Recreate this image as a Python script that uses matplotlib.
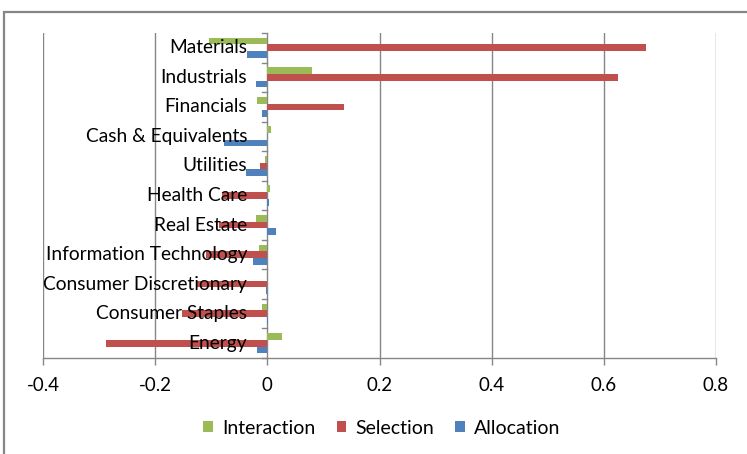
import matplotlib
matplotlib.use("Agg")
import matplotlib.pyplot as plt
from matplotlib.patches import Rectangle
import numpy as np

# sector attribution effects, listed bottom to top
CATEGORIES = ["Energy", "Consumer Staples", "Consumer Discretionary",
              "Information Technology", "Real Estate", "Health Care",
              "Utilities", "Cash & Equivalents", "Financials",
              "Industrials", "Materials"]
ALLOCATION = [-0.018, 0.002, -0.003, -0.025, 0.016, 0.003,
              -0.038, -0.077, -0.009, -0.021, -0.036]
SELECTION = [-0.288, -0.153, -0.127, -0.110, -0.086, -0.080,
             -0.013, 0.0, 0.136, 0.625, 0.675]
INTERACTION = [0.027, -0.009, 0.0, -0.015, -0.020, 0.005,
               -0.005, 0.006, -0.018, 0.079, -0.104]
X_TICKS = [-0.4, -0.2, 0, 0.2, 0.4, 0.6, 0.8]

BLUE = "#4F81BD"
RED = "#C0504D"
GREEN = "#9BBB59"
GRID = "#868686"

plt.rcParams["font.family"] = ["Lato", "DejaVu Sans"]

W, H = 747, 454
fig = plt.figure(figsize=(W / 100, H / 100), dpi=100)
ax = fig.add_axes([43 / W, 1 - 358 / H, (716 - 43) / W, (358 - 33) / H])

y = np.arange(len(CATEGORIES))
h = 0.227
ax.barh(y - h, ALLOCATION, height=h, color=BLUE, label="Allocation", zorder=2)
ax.barh(y, SELECTION, height=h, color=RED, label="Selection", zorder=2)
ax.barh(y + h, INTERACTION, height=h, color=GREEN, label="Interaction", zorder=2)

ax.set_xlim(-0.4, 0.8)
ax.set_ylim(-0.5, len(CATEGORIES) - 0.5)

# vertical gridlines behind bars
for xv in X_TICKS:
    if xv != 0:
        ax.axvline(xv, color=GRID, lw=1, zorder=0)
ax.axvline(0, color=GRID, lw=1, zorder=1)

for s in ["top", "right", "left"]:
    ax.spines[s].set_visible(False)
ax.spines["bottom"].set_color(GRID)
ax.spines["bottom"].set_linewidth(1)

ax.set_xticks(X_TICKS)
ax.set_xticklabels(["-0.4", "-0.2", "0", "0.2", "0.4", "0.6", "0.8"])
ax.tick_params(axis="x", length=5, width=1, color=GRID, pad=9, labelsize=13.5)
ax.set_yticks([])

# small ticks on the zero line between categories
for b in np.arange(-0.5, len(CATEGORIES), 1.0):
    ax.plot([-0.009, 0], [b, b], color=GRID, lw=1, zorder=1, clip_on=False)

# category names sit just left of the zero line, on top of the bars
for yi, name in zip(y, CATEGORIES):
    ax.annotate(name, xy=(0, yi), xytext=(-20, 0), textcoords="offset pixels",
                ha="right", va="center", fontsize=13.8, color="black", zorder=5)

handles, labels = ax.get_legend_handles_labels()
fig.legend(handles[::-1], labels[::-1], loc="center", bbox_to_anchor=(0.511, 1 - 428 / H),
           ncol=3, frameon=False, fontsize=14, handlelength=0.5, handleheight=0.5,
           handletextpad=0.45, columnspacing=1.1)

# outer chart border
fig.patches.append(Rectangle((3.5 / W, -0.5), 2, 1.5 - 11.5 / H,
                             transform=fig.transFigure, fill=False,
                             edgecolor=GRID, lw=1.6))

fig.savefig("out.png", dpi=100)
